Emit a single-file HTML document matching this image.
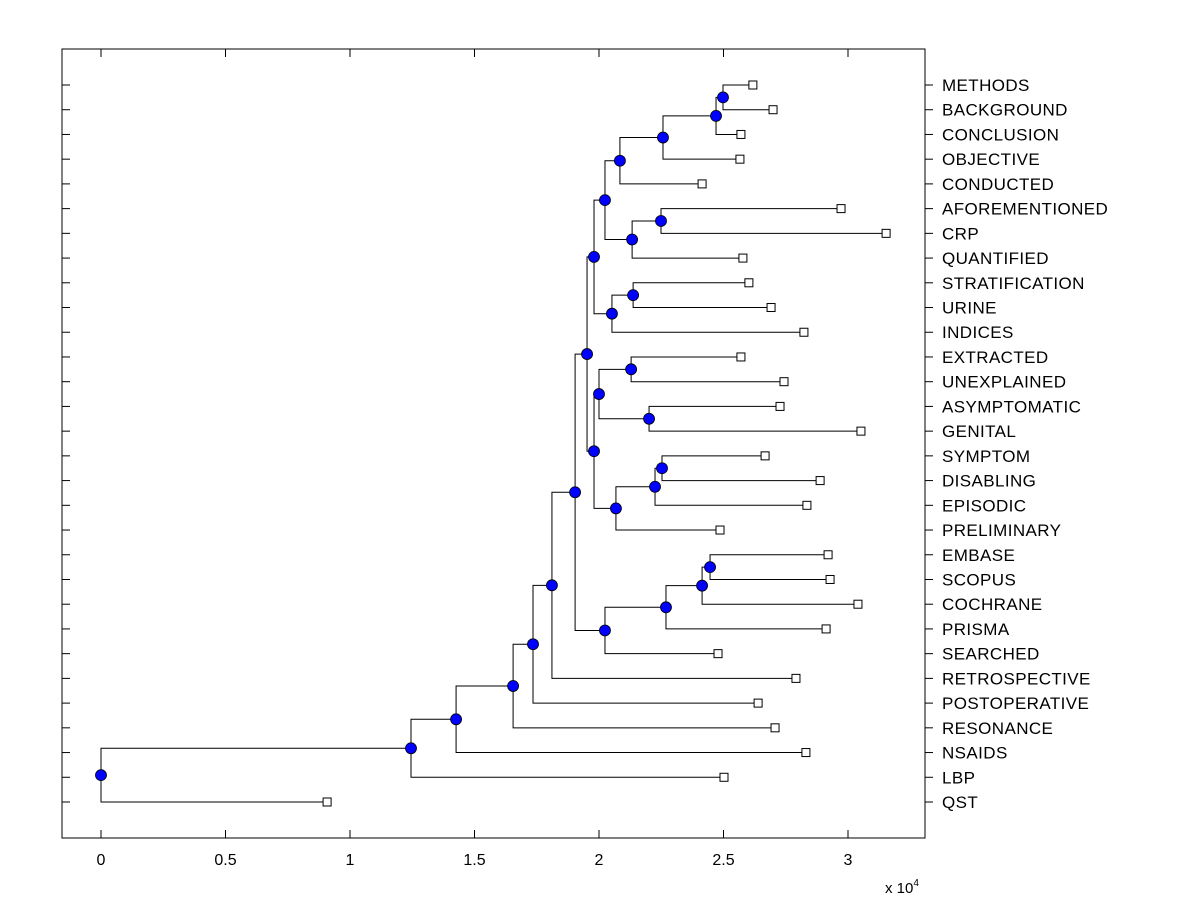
<!DOCTYPE html>
<html><head><meta charset="utf-8"><style>
html,body{margin:0;padding:0;background:#fff;}
svg{display:block;font-family:"Liberation Sans",Arial,sans-serif;}
</style></head><body>
<svg id="chart" width="1200" height="900" viewBox="0 0 1200 900"></svg>
<script>
const leafLabels=["METHODS","BACKGROUND","CONCLUSION","OBJECTIVE","CONDUCTED","AFOREMENTIONED","CRP","QUANTIFIED","STRATIFICATION","URINE","INDICES","EXTRACTED","UNEXPLAINED","ASYMPTOMATIC","GENITAL","SYMPTOM","DISABLING","EPISODIC","PRELIMINARY","EMBASE","SCOPUS","COCHRANE","PRISMA","SEARCHED","RETROSPECTIVE","POSTOPERATIVE","RESONANCE","NSAIDS","LBP","QST"];
const leafValues=[2.618,2.699,2.570,2.566,2.414,2.972,3.153,2.578,2.602,2.691,2.823,2.570,2.743,2.727,3.052,2.667,2.888,2.835,2.486,2.920,2.928,3.040,2.912,2.478,2.791,2.639,2.707,2.831,2.502,0.908];
const nodeChildren=[["L0","L1"],["N0","L2"],["N1","L3"],["N2","L4"],["L5","L6"],["N4","L7"],["N3","N5"],["L8","L9"],["N7","L10"],["N6","N8"],["L11","L12"],["L13","L14"],["N10","N11"],["L15","L16"],["N13","L17"],["N14","L18"],["N12","N15"],["N9","N16"],["L19","L20"],["N18","L21"],["N19","L22"],["N20","L23"],["N17","N21"],["N22","L24"],["N23","L25"],["N24","L26"],["N25","L27"],["N26","L28"],["N27","L29"]];
const nodeValues=[2.498,2.470,2.257,2.084,2.249,2.133,2.024,2.137,2.052,1.980,2.129,2.201,2.0,2.253,2.225,2.068,1.980,1.952,2.446,2.414,2.269,2.024,1.904,1.811,1.735,1.655,1.426,1.245,0];
const xTicks=[0,0.5,1,1.5,2,2.5,3];
const xTickLabels=["0","0.5","1","1.5","2","2.5","3"];

const NS="http://www.w3.org/2000/svg";
const svg=document.getElementById('chart');
const L=62,R=925,T=49,B=838;
const xs=v=>101+v*249;
const ys=i=>85+i*(802-85)/29;
function mk(t,a,p){const e=document.createElementNS(NS,t);for(const k in a)e.setAttribute(k,a[k]);(p||svg).appendChild(e);return e;}

const frame=mk('rect',{x:L,y:T,width:R-L,height:B-T,fill:'none',stroke:'#000','stroke-width':1});



xTicks.forEach((v,i)=>{
  const x=xs(v);
  mk('line',{x1:x,y1:B,x2:x,y2:B-8,stroke:'#000'});
  mk('line',{x1:x,y1:T,x2:x,y2:T+8,stroke:'#000'});
  const t=mk('text',{x:x,y:865,'font-size':16,'text-anchor':'middle'});
  t.textContent=xTickLabels[i];
  
  
});
const ex=mk('text',{x:885,y:893,'font-size':15});
ex.innerHTML='x 10<tspan dy="-7" font-size="10">4</tspan>';



leafLabels.forEach((s,i)=>{
  const y=ys(i);
  mk('line',{x1:L,y1:y,x2:L+8,y2:y,stroke:'#000'});
  mk('line',{x1:R,y1:y,x2:R+8,y2:y,stroke:'#000'});
  const t=mk('text',{x:942,y:y+6,'font-size':17,'letter-spacing':0.4});
  t.textContent=s;
  
  
});

const nodeY=[];
function pos(c){const k=c[0],i=+c.slice(1);return k==='L'?{x:xs(leafValues[i]),y:ys(i)}:{x:xs(nodeValues[i]),y:nodeY[i]};}
nodeChildren.forEach((ch,i)=>{nodeY[i]=(pos(ch[0]).y+pos(ch[1]).y)/2;});
const lines=mk('g',{stroke:'#000','stroke-width':1,fill:'none'});


nodeChildren.forEach((ch,i)=>{
  const nx=xs(nodeValues[i]);
  const a=pos(ch[0]),b=pos(ch[1]);
  mk('path',{d:`M${a.x},${a.y}H${nx}V${b.y}H${b.x}`},lines);
});
leafValues.forEach((v,i)=>{
  const r=mk('rect',{x:xs(v)-4,y:ys(i)-4,width:8,height:8,fill:'#fff',stroke:'#000'});
  
  
});
nodeValues.forEach((v,i)=>{
  const c=mk('circle',{cx:xs(v),cy:nodeY[i],r:5.5,fill:'#0000ff',stroke:'#000','stroke-width':0.8});
  
  
});
</script>
</body></html>
